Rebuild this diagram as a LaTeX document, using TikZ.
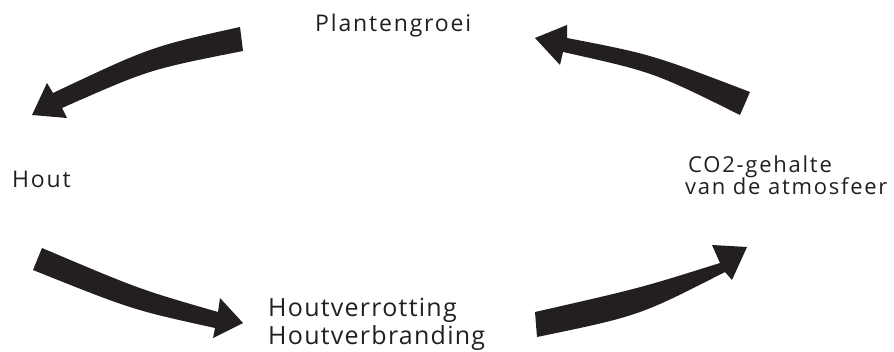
\documentclass[tikz,border=0pt]{standalone}
\usepackage{fontspec}
\setmainfont{Open Sans}
\definecolor{ink}{HTML}{231F20}
\begin{document}
\begin{tikzpicture}[x=1pt,y=-1pt,
  lbl/.style={anchor=base west,inner sep=0pt,text=ink,font=\fontsize{23}{27}\selectfont\addfontfeature{LetterSpace=8}},
  lblco/.style={anchor=base west,inner sep=0pt,text=ink,font=\fontsize{22}{26}\selectfont\addfontfeature{LetterSpace=8}},
  lblbig/.style={anchor=base west,inner sep=0pt,text=ink,font=\fontsize{25}{29}\selectfont\addfontfeature{LetterSpace=5}},
  bigarrow/.style={fill=ink,draw=none}]
\useasboundingbox (0,0) rectangle (894,352);
% labels
\node[lbl] (plant) at (315,32) {Plantengroei};
\node[lbl] (hout) at (12,188) {Hout};
\node[lblco] (co2a) at (688,173) {CO2-gehalte};
\node[lblco] (co2b) at (685,195) {van de atmosfeer};
\node[lblbig] (rot) at (268,317) {Houtverrotting};
\node[lblbig] (brand) at (268,345) {Houtverbranding};
% arrow: Plantengroei -> Hout
\fill[bigarrow] (240,27) .. controls (151,46.7) .. (53,93) -- (47,83) -- (32,115)
  -- (67,118) -- (62,108) .. controls (149.2,69.5) .. (243,51) -- cycle;
% arrow: CO2 -> Plantengroei
\fill[bigarrow] (750,92) .. controls (651.2,54.3) .. (567,38) -- (567,25) -- (535,38)
  -- (560,65) -- (563,52) .. controls (653.5,72.1) .. (740,115) -- cycle;
% arrow: Hout -> Houtverrotting
\fill[bigarrow] (42,248) .. controls (139.3,289.3) .. (218,312) -- (220,298) -- (243,323)
  -- (213,338) -- (215,328) .. controls (132,309.7) .. (33,270) -- cycle;
% arrow: Houtverbranding -> CO2
\fill[bigarrow] (535,312) .. controls (640.1,288.1) .. (720,263) -- (712,245) -- (747,247)
  -- (732,280) -- (725,272) .. controls (639,315.9) .. (537,337) -- cycle;
\end{tikzpicture}
\end{document}
